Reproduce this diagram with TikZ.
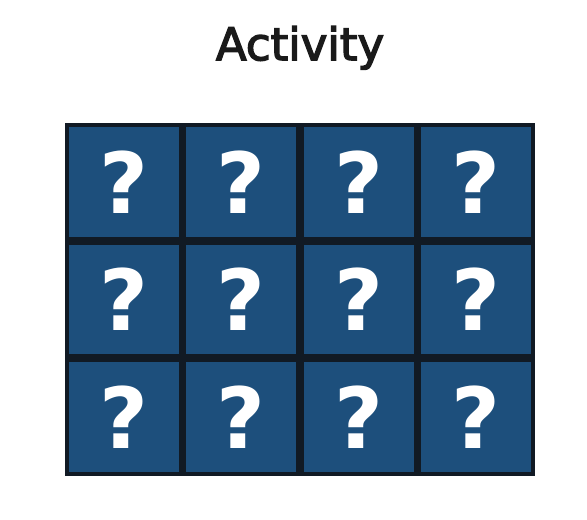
\documentclass[tikz,border=0pt]{standalone}
\usepackage{fontspec}
\newfontfamily\titlefont[FakeBold=3]{DejaVu Sans}
\newfontfamily\markfont{DejaVu Sans}
\usetikzlibrary{positioning}
\definecolor{ctile}{HTML}{1D4F7C}
\definecolor{cgrid}{HTML}{111A24}
\definecolor{cink}{HTML}{1A1A1A}

\begin{document}
\begin{tikzpicture}[
  board/.style={
    rectangle, fill=cgrid, inner sep=0pt,
    minimum width=11.75cm, minimum height=8.82cm
  },
  tile/.style={
    rectangle, fill=ctile, inner sep=0pt,
    minimum width=2.74cm, minimum height=2.74cm,
    text=white, font=\markfont\bfseries\fontsize{60}{60}\selectfont
  }
]
\useasboundingbox (0,0) rectangle (14.675,12.975);
\fill[white] (0,0) rectangle (14.675,12.975);

% ============================================================
% Title
\node[cink, anchor=base, font=\titlefont\fontsize{32}{32}\selectfont] (title)
  at (7.5, 11.47) {Activity};

% ============================================================
% Dark board behind the 3 x 4 tiles
\node[board] (frame) at (7.5, 5.49) {};

% Tiles, each with a question mark
\foreach \r in {1,2,3} {
  \foreach \c in {1,...,4} {
    \pgfmathsetmacro{\xpos}{1.625 + (\c-0.5)*2.9375}
    \pgfmathsetmacro{\ypos}{9.9 - (\r-0.5)*2.94}
    \node[tile] (t\r\c) at (\xpos, \ypos) {?};
  }
}

\end{tikzpicture}
\end{document}
